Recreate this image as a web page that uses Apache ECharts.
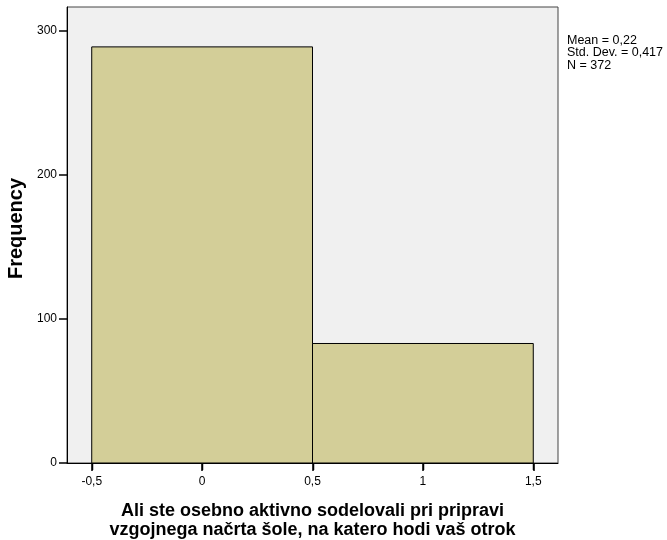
<!DOCTYPE html>
<html><head><meta charset="utf-8">
<script src="https://cdn.jsdelivr.net/npm/echarts@6/dist/echarts.min.js"></script>
<style>html,body{margin:0;padding:0;background:#fff}#c{width:667px;height:540px}</style>
</head><body><div id="c"></div>
<script>
var binStarts = [-0.5, 0.5];
var binEnds = [0.5, 1.5];
var counts = [289, 83];
var xTicks = [-0.5, 0, 0.5, 1, 1.5];
var yTicks = [0, 100, 200, 300];
var statsLines = ['Mean = 0,22', 'Std. Dev. = 0,417', 'N = 372'];
var xTitle = 'Ali ste osebno aktivno sodelovali pri pripravi\nvzgojnega načrta šole, na katero hodi vaš otrok';
var yTitle = 'Frequency';

var FONT = '"Liberation Sans", Arial, sans-serif';
var fmt = function (v) { return String(v).replace('.', ','); };
var data = binStarts.map(function (s, i) { return [s, binEnds[i], counts[i]]; });
var tickData = xTicks.map(function (v) { return [v, 0]; });

var chart = echarts.init(document.getElementById('c'), null, {renderer: 'canvas'});
chart.setOption({
  animation: false,
  grid: {left: 67, top: 7, right: 109, bottom: 77, containLabel: false, outerBoundsMode: 'none',
         show: true, backgroundColor: '#F0F0F0', borderColor: '#444', borderWidth: 1},
  xAxis: {
    type: 'value', min: -0.612, max: 1.612, z: 5,
    name: xTitle, nameLocation: 'middle', nameGap: 39,
    nameTextStyle: {fontFamily: FONT, fontSize: 18, fontWeight: 'bold', color: '#000', lineHeight: 19},
    axisLine: {show: true, onZero: false, lineStyle: {color: '#000', width: 1}},
    axisTick: {show: true, inside: false, length: 8, customValues: xTicks, lineStyle: {color: '#000', width: 1.5}},
    axisLabel: {show: true, customValues: xTicks, formatter: fmt, fontFamily: FONT, fontSize: 12, color: '#000', margin: 13},
    splitLine: {show: false}
  },
  yAxis: {
    type: 'value', min: 0, max: 316.7, z: 5,
    name: yTitle, nameLocation: 'middle', nameGap: 40,
    nameTextStyle: {fontFamily: FONT, fontSize: 20, fontWeight: 'bold', color: '#000', padding: [0, 0, 0, 13]},
    axisLine: {show: true, onZero: false, lineStyle: {color: '#000', width: 1}},
    axisTick: {show: true, inside: false, length: 8, customValues: yTicks, lineStyle: {color: '#000', width: 1.5}},
    axisLabel: {customValues: yTicks, fontFamily: FONT, fontSize: 12, color: '#000', margin: 10},
    splitLine: {show: false}
  },
  series: [{
    type: 'custom',
    data: data,
    encode: {x: [0, 1], y: 2},
    renderItem: function (params, api) {
      var p0 = api.coord([api.value(0), api.value(2)]);
      var p1 = api.coord([api.value(1), 0]);
      return {
        type: 'rect',
        shape: {x: p0[0], y: p0[1], width: p1[0] - p0[0], height: p1[1] - p0[1]},
        style: {fill: '#D3CE98', stroke: '#000', lineWidth: 1}
      };
    }
  }, {
    type: 'custom',
    data: tickData,
    silent: true,
    clip: false,
    z: 6,
    encode: {x: 0, y: 1},
    renderItem: function (params, api) {
      var p = api.coord([api.value(0), 0]);
      var x = Math.round(p[0]) + 0.5;
      var y = Math.round(p[1]);
      return {
        type: 'line',
        shape: {x1: x, y1: y, x2: x, y2: y + 7},
        style: {stroke: '#000', lineWidth: 1.5}
      };
    }
  }],
  graphic: [{
    type: 'text', left: 567, top: 34,
    style: {text: statsLines.join('\n'), fontFamily: FONT, fontSize: 12.5, lineHeight: 12.5, fill: '#000'}
  }]
});
</script></body></html>
